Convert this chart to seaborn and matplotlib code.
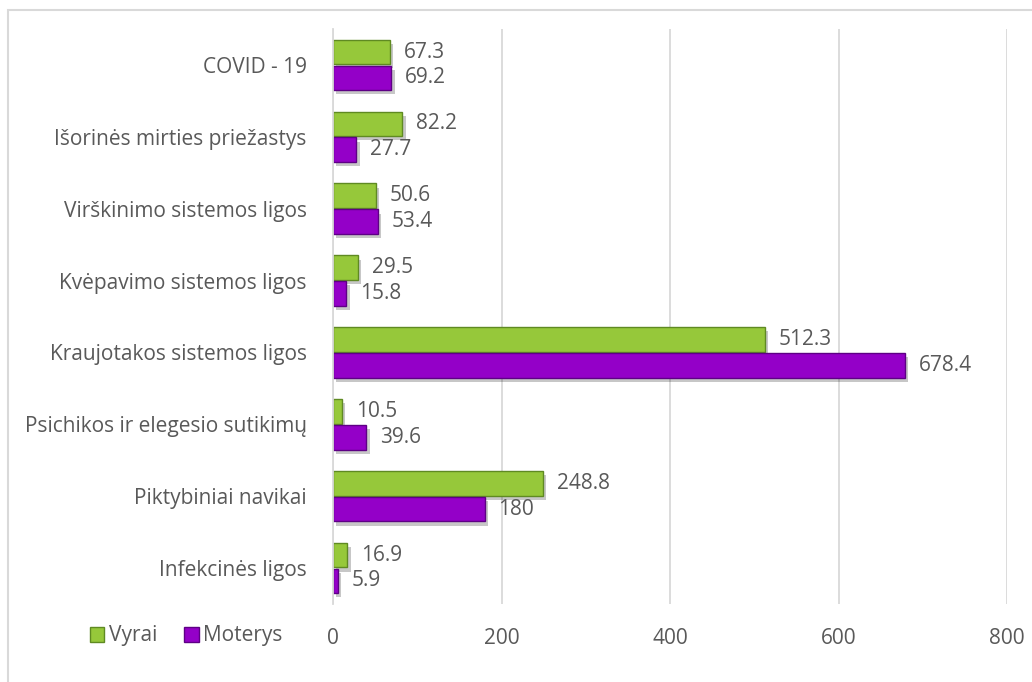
import matplotlib
matplotlib.use("Agg")
import matplotlib.pyplot as plt
import matplotlib.patheffects as pe
from matplotlib.patches import Rectangle, Patch
import pandas as pd
import seaborn as sns

categories = [
    "COVID - 19",
    "Išorinės mirties priežastys",
    "Virškinimo sistemos ligos",
    "Kvėpavimo sistemos ligos",
    "Kraujotakos sistemos ligos",
    "Psichikos ir elegesio sutikimų",
    "Piktybiniai navikai",
    "Infekcinės ligos",
]
vyrai = [67.3, 82.2, 50.6, 29.5, 512.3, 10.5, 248.8, 16.9]
moterys = [69.2, 27.7, 53.4, 15.8, 678.4, 39.6, 180, 5.9]
series = ["Vyrai", "Moterys"]
x_ticks = [0, 200, 400, 600, 800]

green = "#96c83a"
purple = "#9400c8"
green_edge = "#5f8a22"
purple_edge = "#5e0085"
text_color = "#595959"
grid_color = "#d9d9d9"

df = pd.DataFrame({
    "category": categories * 2,
    "value": vyrai + moterys,
    "series": [series[0]] * len(categories) + [series[1]] * len(categories),
})

sns.set_theme(style="white")
plt.rcParams["font.family"] = ["Open Sans", "DejaVu Sans"]
fs = 15

fig = plt.figure(figsize=(10.32, 6.82), dpi=100)
ax = fig.add_axes([333 / 1032, 1 - 604 / 682, (1007 - 333) / 1032, (604 - 29) / 682])

sns.barplot(
    data=df, y="category", x="value", hue="series", order=categories,
    hue_order=series, palette=[green, purple], orient="h",
    width=0.72, gap=0.05, legend=False, ax=ax, saturation=1,
)

shadow = [pe.SimplePatchShadow(offset=(2.5, -3), shadow_rgbFace="#000000", alpha=0.22), pe.Normal()]
for container, edge in zip(ax.containers, [green_edge, purple_edge]):
    for bar in container:
        bar.set_edgecolor(edge)
        bar.set_linewidth(1.0)
        bar.set_path_effects(shadow)
    ax.bar_label(container, labels=[f"{v:g}" for v in container.datavalues],
                 padding=10, fontsize=fs, color=text_color)

ax.set_xlim(0, 800)
ax.set_xticks(x_ticks)
ax.set_xticklabels([str(t) for t in x_ticks])
ax.set_xlabel("")
ax.set_ylabel("")
ax.grid(axis="x", color=grid_color, linewidth=1.3)
ax.set_axisbelow(True)
for side in ["top", "right", "bottom"]:
    ax.spines[side].set_visible(False)
ax.spines["left"].set_color(grid_color)
ax.spines["left"].set_linewidth(1.3)
ax.tick_params(axis="x", length=0, pad=17, labelsize=fs, labelcolor=text_color)
ax.tick_params(axis="y", length=0, pad=19, labelsize=fs, labelcolor=text_color)

handles = [Patch(facecolor=green, edgecolor=green_edge, linewidth=1),
           Patch(facecolor=purple, edgecolor=purple_edge, linewidth=1)]
fig.legend(handles, series, loc="center", bbox_to_anchor=(186 / 1032, 1 - 636 / 682),
           ncol=2, frameon=False, fontsize=fs, labelcolor=text_color,
           handlelength=0.7, handleheight=0.7, handletextpad=0.2, columnspacing=1.3)

# chart frame
fig.patches.append(Rectangle((8 / 1032, -0.05), 1.1, 1 - 10 / 682 + 0.05,
                             transform=fig.transFigure, fill=False,
                             edgecolor=grid_color, linewidth=1.5))

fig.savefig("out.png", dpi=100)
